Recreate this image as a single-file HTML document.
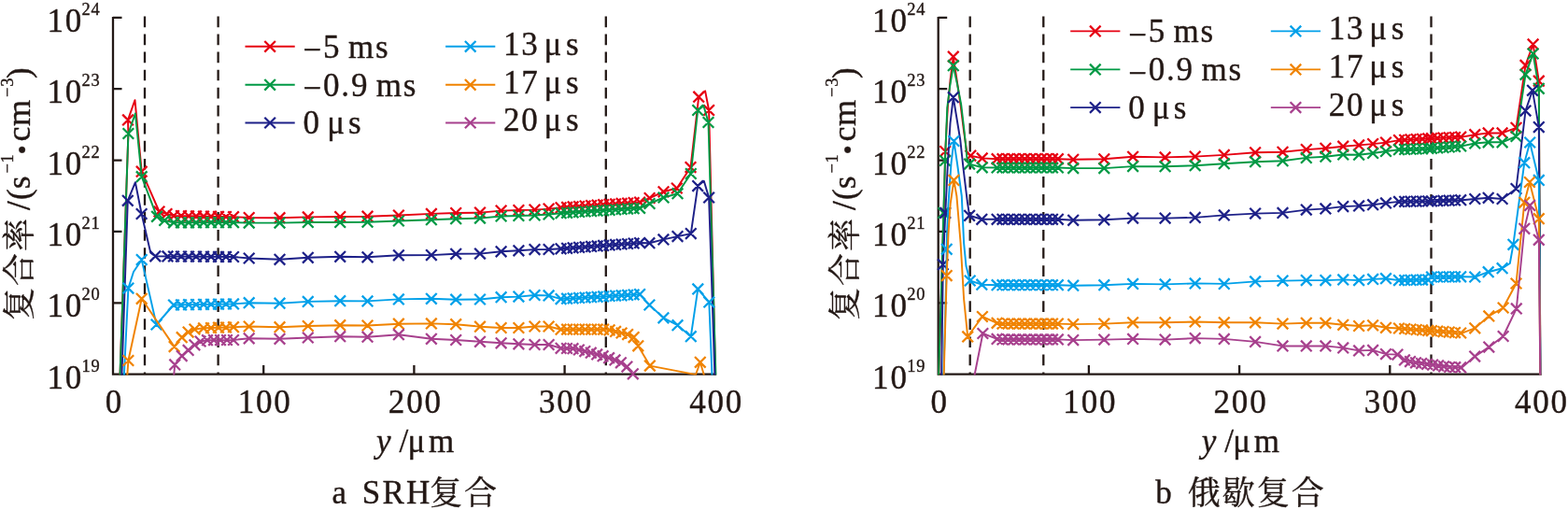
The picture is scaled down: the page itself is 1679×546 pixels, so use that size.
<!DOCTYPE html>
<html lang="zh"><head><meta charset="utf-8"><title>复合率</title>
<style>
html,body{margin:0;padding:0;background:#fff}
body{width:1679px;height:546px;overflow:hidden}
svg{display:block}
text{font-family:"Liberation Serif","Noto Serif CJK SC",serif;fill:#231815;stroke:#231815;stroke-width:0.38;stroke-linejoin:round}
.t{font-size:35px;letter-spacing:1.8px}
.lt{word-spacing:-3px}
.sup{font-size:18.4px;letter-spacing:0.8px}
.cj{font-family:"Noto Serif CJK SC","Liberation Serif",serif}
.ax{stroke:#231815;stroke-width:2.3;fill:none}
.da{stroke:#231815;stroke-width:2.3;fill:none;stroke-dasharray:11.7 7.35}
.ln{fill:none;stroke-width:1.95;stroke-linejoin:round}
.mk{fill:none;stroke-width:2.25}
.lg{fill:none;stroke-width:1.9}
</style></head><body>
<svg width="1679" height="546" viewBox="0 0 1679 546">
<rect width="1679" height="546" fill="#fff"/>
<defs>
<clipPath id="c0"><rect x="119" y="0" width="650.8" height="401.6"/></clipPath>
<clipPath id="c1"><rect x="1002.7" y="0" width="650.8" height="401.6"/></clipPath>
</defs>
<g>
<path class="da" d="M155 17.5V400.6"/>
<path class="da" d="M233.6 17.5V400.6"/>
<path class="da" d="M648.8 17.5V400.6"/>
<path class="ax" d="M121 17.9V400.6H766.8"/>
<path class="ax" d="M121 18.9h9.5M121 95.2h9.5M121 171.6h9.5M121 247.9h9.5M121 324.3h9.5M282.2 400.6v-9.5M443.4 400.6v-9.5M604.6 400.6v-9.5"/>
<path class="ln" clip-path="url(#c0)" stroke="#E60012" d="M121 620L137.4 143L137 128.4L144.5 107.2L151.7 183.7L170.5 226.5L178.5 229L186 231L250 232.2L266.7 233L299.5 233.2L329.8 232.4L364.2 232L393.5 231.7L426.9 230.5L461.9 228.9L488.2 228L514 227.6L536.6 225.6L555.4 225L572.5 224.6L587.6 223.6L600.6 222.3L685.1 216.6L695.6 212L710.5 205.3L724.8 201.5L739.5 179.1L748.2 103.7L755.1 97.4L759.1 118L766.6 420"/>
<path class="mk" stroke="#E60012" d="M131.2 122.6l11.6 11.6m-11.6 0l11.6 -11.6M145.9 177.9l11.6 11.6m-11.6 0l11.6 -11.6M164.7 220.7l11.6 11.6m-11.6 0l11.6 -11.6M172.7 223.2l11.6 11.6m-11.6 0l11.6 -11.6M180.2 225.2l11.6 11.6m-11.6 0l11.6 -11.6M188.2 225.3l11.6 11.6m-11.6 0l11.6 -11.6M196.2 225.5l11.6 11.6m-11.6 0l11.6 -11.6M204.2 225.6l11.6 11.6m-11.6 0l11.6 -11.6M212.2 225.8l11.6 11.6m-11.6 0l11.6 -11.6M220.2 225.9l11.6 11.6m-11.6 0l11.6 -11.6M228.2 226.1l11.6 11.6m-11.6 0l11.6 -11.6M236.2 226.2l11.6 11.6m-11.6 0l11.6 -11.6M244.2 226.4l11.6 11.6m-11.6 0l11.6 -11.6M260.9 227.2l11.6 11.6m-11.6 0l11.6 -11.6M293.7 227.4l11.6 11.6m-11.6 0l11.6 -11.6M324 226.6l11.6 11.6m-11.6 0l11.6 -11.6M358.4 226.2l11.6 11.6m-11.6 0l11.6 -11.6M387.7 225.9l11.6 11.6m-11.6 0l11.6 -11.6M421.1 224.7l11.6 11.6m-11.6 0l11.6 -11.6M456.1 223.1l11.6 11.6m-11.6 0l11.6 -11.6M482.4 222.2l11.6 11.6m-11.6 0l11.6 -11.6M508.2 221.8l11.6 11.6m-11.6 0l11.6 -11.6M530.8 219.8l11.6 11.6m-11.6 0l11.6 -11.6M549.6 219.2l11.6 11.6m-11.6 0l11.6 -11.6M566.7 218.8l11.6 11.6m-11.6 0l11.6 -11.6M581.8 217.8l11.6 11.6m-11.6 0l11.6 -11.6M594.8 216.5l11.6 11.6m-11.6 0l11.6 -11.6M601.3 216.1l11.6 11.6m-11.6 0l11.6 -11.6M607.8 215.6l11.6 11.6m-11.6 0l11.6 -11.6M614.3 215.2l11.6 11.6m-11.6 0l11.6 -11.6M620.8 214.7l11.6 11.6m-11.6 0l11.6 -11.6M627.3 214.3l11.6 11.6m-11.6 0l11.6 -11.6M633.8 213.9l11.6 11.6m-11.6 0l11.6 -11.6M640.3 213.4l11.6 11.6m-11.6 0l11.6 -11.6M646.8 213l11.6 11.6m-11.6 0l11.6 -11.6M653.3 212.6l11.6 11.6m-11.6 0l11.6 -11.6M659.8 212.1l11.6 11.6m-11.6 0l11.6 -11.6M666.3 211.7l11.6 11.6m-11.6 0l11.6 -11.6M672.8 211.2l11.6 11.6m-11.6 0l11.6 -11.6M679.3 210.8l11.6 11.6m-11.6 0l11.6 -11.6M689.8 206.2l11.6 11.6m-11.6 0l11.6 -11.6M704.7 199.5l11.6 11.6m-11.6 0l11.6 -11.6M719 195.7l11.6 11.6m-11.6 0l11.6 -11.6M733.7 173.3l11.6 11.6m-11.6 0l11.6 -11.6M742.4 97.9l11.6 11.6m-11.6 0l11.6 -11.6M753.3 112.2l11.6 11.6m-11.6 0l11.6 -11.6"/>
<path class="ln" clip-path="url(#c0)" stroke="#009944" d="M121 620L137.4 143L144.9 121.5L151.7 189.2L168 231.8L176.2 236L186 238.3L250 238.2L266.7 238.6L299.5 238.6L329.8 238L364.2 238L393.5 237.7L426.9 236.5L461.9 235.2L488.2 234.2L514 233.6L536.6 231.5L555.4 231L572.5 230.5L587.6 229.5L600.6 228.2L685.1 222.8L695.6 218L710.5 211.5L725.5 207.2L739.8 186L747.2 118L753.5 113.4L758.5 131L767 420"/>
<path class="mk" stroke="#009944" d="M131.6 137.2l11.6 11.6m-11.6 0l11.6 -11.6M145.9 183.4l11.6 11.6m-11.6 0l11.6 -11.6M162.2 226l11.6 11.6m-11.6 0l11.6 -11.6M170.4 230.2l11.6 11.6m-11.6 0l11.6 -11.6M180.2 232.5l11.6 11.6m-11.6 0l11.6 -11.6M188.2 232.5l11.6 11.6m-11.6 0l11.6 -11.6M196.2 232.5l11.6 11.6m-11.6 0l11.6 -11.6M204.2 232.5l11.6 11.6m-11.6 0l11.6 -11.6M212.2 232.4l11.6 11.6m-11.6 0l11.6 -11.6M220.2 232.4l11.6 11.6m-11.6 0l11.6 -11.6M228.2 232.4l11.6 11.6m-11.6 0l11.6 -11.6M236.2 232.4l11.6 11.6m-11.6 0l11.6 -11.6M244.2 232.4l11.6 11.6m-11.6 0l11.6 -11.6M260.9 232.8l11.6 11.6m-11.6 0l11.6 -11.6M293.7 232.8l11.6 11.6m-11.6 0l11.6 -11.6M324 232.2l11.6 11.6m-11.6 0l11.6 -11.6M358.4 232.2l11.6 11.6m-11.6 0l11.6 -11.6M387.7 231.9l11.6 11.6m-11.6 0l11.6 -11.6M421.1 230.7l11.6 11.6m-11.6 0l11.6 -11.6M456.1 229.4l11.6 11.6m-11.6 0l11.6 -11.6M482.4 228.4l11.6 11.6m-11.6 0l11.6 -11.6M508.2 227.8l11.6 11.6m-11.6 0l11.6 -11.6M530.8 225.7l11.6 11.6m-11.6 0l11.6 -11.6M549.6 225.2l11.6 11.6m-11.6 0l11.6 -11.6M566.7 224.7l11.6 11.6m-11.6 0l11.6 -11.6M581.8 223.7l11.6 11.6m-11.6 0l11.6 -11.6M594.8 222.4l11.6 11.6m-11.6 0l11.6 -11.6M601.3 222l11.6 11.6m-11.6 0l11.6 -11.6M607.8 221.6l11.6 11.6m-11.6 0l11.6 -11.6M614.3 221.2l11.6 11.6m-11.6 0l11.6 -11.6M620.8 220.7l11.6 11.6m-11.6 0l11.6 -11.6M627.3 220.3l11.6 11.6m-11.6 0l11.6 -11.6M633.8 219.9l11.6 11.6m-11.6 0l11.6 -11.6M640.3 219.5l11.6 11.6m-11.6 0l11.6 -11.6M646.8 219.1l11.6 11.6m-11.6 0l11.6 -11.6M653.3 218.7l11.6 11.6m-11.6 0l11.6 -11.6M659.8 218.2l11.6 11.6m-11.6 0l11.6 -11.6M666.3 217.8l11.6 11.6m-11.6 0l11.6 -11.6M672.8 217.4l11.6 11.6m-11.6 0l11.6 -11.6M679.3 217l11.6 11.6m-11.6 0l11.6 -11.6M689.8 212.2l11.6 11.6m-11.6 0l11.6 -11.6M704.7 205.7l11.6 11.6m-11.6 0l11.6 -11.6M719.7 201.4l11.6 11.6m-11.6 0l11.6 -11.6M734 180.2l11.6 11.6m-11.6 0l11.6 -11.6M741.4 112.2l11.6 11.6m-11.6 0l11.6 -11.6M752.7 125.2l11.6 11.6m-11.6 0l11.6 -11.6"/>
<path class="ln" clip-path="url(#c0)" stroke="#1D2088" d="M121 679L136.8 214.8L144.9 195.2L151.6 229L161.3 270.8L166.3 274.3L186 274.5L250 275L266.7 276.5L299.5 277.8L329.8 275.8L364.2 274.8L393.5 275.3L426.9 273.3L461.9 273.1L488.2 271.8L514 271.6L536.6 269.3L555.4 268.3L572.5 267.1L587.6 267L600.6 266.3L685.1 260L695.4 260.2L710.4 256.4L725.5 253.1L739.8 250.1L747.2 199.1L753.8 193.8L759.1 211.5L766 420"/>
<path class="mk" stroke="#1D2088" d="M131 209l11.6 11.6m-11.6 0l11.6 -11.6M145.8 223.2l11.6 11.6m-11.6 0l11.6 -11.6M160.5 268.5l11.6 11.6m-11.6 0l11.6 -11.6M173.7 268.6l11.6 11.6m-11.6 0l11.6 -11.6M180.2 268.7l11.6 11.6m-11.6 0l11.6 -11.6M188.2 268.8l11.6 11.6m-11.6 0l11.6 -11.6M196.2 268.8l11.6 11.6m-11.6 0l11.6 -11.6M204.2 268.9l11.6 11.6m-11.6 0l11.6 -11.6M212.2 268.9l11.6 11.6m-11.6 0l11.6 -11.6M220.2 269l11.6 11.6m-11.6 0l11.6 -11.6M228.2 269.1l11.6 11.6m-11.6 0l11.6 -11.6M236.2 269.1l11.6 11.6m-11.6 0l11.6 -11.6M244.2 269.2l11.6 11.6m-11.6 0l11.6 -11.6M260.9 270.7l11.6 11.6m-11.6 0l11.6 -11.6M293.7 272l11.6 11.6m-11.6 0l11.6 -11.6M324 270l11.6 11.6m-11.6 0l11.6 -11.6M358.4 269l11.6 11.6m-11.6 0l11.6 -11.6M387.7 269.5l11.6 11.6m-11.6 0l11.6 -11.6M421.1 267.5l11.6 11.6m-11.6 0l11.6 -11.6M456.1 267.3l11.6 11.6m-11.6 0l11.6 -11.6M482.4 266l11.6 11.6m-11.6 0l11.6 -11.6M508.2 265.8l11.6 11.6m-11.6 0l11.6 -11.6M530.8 263.5l11.6 11.6m-11.6 0l11.6 -11.6M549.6 262.5l11.6 11.6m-11.6 0l11.6 -11.6M566.7 261.3l11.6 11.6m-11.6 0l11.6 -11.6M581.8 261.2l11.6 11.6m-11.6 0l11.6 -11.6M594.8 260.5l11.6 11.6m-11.6 0l11.6 -11.6M601.3 260l11.6 11.6m-11.6 0l11.6 -11.6M607.8 259.5l11.6 11.6m-11.6 0l11.6 -11.6M614.3 259l11.6 11.6m-11.6 0l11.6 -11.6M620.8 258.6l11.6 11.6m-11.6 0l11.6 -11.6M627.3 258.1l11.6 11.6m-11.6 0l11.6 -11.6M633.8 257.6l11.6 11.6m-11.6 0l11.6 -11.6M640.3 257.1l11.6 11.6m-11.6 0l11.6 -11.6M646.8 256.6l11.6 11.6m-11.6 0l11.6 -11.6M653.3 256.1l11.6 11.6m-11.6 0l11.6 -11.6M659.8 255.7l11.6 11.6m-11.6 0l11.6 -11.6M666.3 255.2l11.6 11.6m-11.6 0l11.6 -11.6M672.8 254.7l11.6 11.6m-11.6 0l11.6 -11.6M679.3 254.2l11.6 11.6m-11.6 0l11.6 -11.6M689.6 254.4l11.6 11.6m-11.6 0l11.6 -11.6M704.6 250.6l11.6 11.6m-11.6 0l11.6 -11.6M719.7 247.3l11.6 11.6m-11.6 0l11.6 -11.6M734 244.3l11.6 11.6m-11.6 0l11.6 -11.6M741.4 193.3l11.6 11.6m-11.6 0l11.6 -11.6M753.3 205.7l11.6 11.6m-11.6 0l11.6 -11.6"/>
<path class="ln" clip-path="url(#c0)" stroke="#00A0E9" d="M121 645L137.4 308.6L143 291L151.7 278.1L167.5 347.5L185.8 326.5L250 325.4L266.7 324.2L299.5 324.7L329.8 322.9L364.2 322.2L393.5 322.4L426.9 320.4L461.9 319.8L488.2 320.7L514 320.5L536.6 318.2L555.4 317.6L572.5 316L587.6 316.4L600.6 320.1L685.1 315.1L695.4 326.5L710.4 340.3L725.5 348.2L739.8 360.2L747.3 309.4L759.3 323.5L763.2 420"/>
<path class="mk" stroke="#00A0E9" d="M131.6 302.8l11.6 11.6m-11.6 0l11.6 -11.6M145.9 272.3l11.6 11.6m-11.6 0l11.6 -11.6M161.7 341.7l11.6 11.6m-11.6 0l11.6 -11.6M180.2 320.7l11.6 11.6m-11.6 0l11.6 -11.6M188.2 320.6l11.6 11.6m-11.6 0l11.6 -11.6M196.2 320.4l11.6 11.6m-11.6 0l11.6 -11.6M204.2 320.3l11.6 11.6m-11.6 0l11.6 -11.6M212.2 320.1l11.6 11.6m-11.6 0l11.6 -11.6M220.2 320l11.6 11.6m-11.6 0l11.6 -11.6M228.2 319.9l11.6 11.6m-11.6 0l11.6 -11.6M236.2 319.7l11.6 11.6m-11.6 0l11.6 -11.6M244.2 319.6l11.6 11.6m-11.6 0l11.6 -11.6M260.9 318.4l11.6 11.6m-11.6 0l11.6 -11.6M293.7 318.9l11.6 11.6m-11.6 0l11.6 -11.6M324 317.1l11.6 11.6m-11.6 0l11.6 -11.6M358.4 316.4l11.6 11.6m-11.6 0l11.6 -11.6M387.7 316.6l11.6 11.6m-11.6 0l11.6 -11.6M421.1 314.6l11.6 11.6m-11.6 0l11.6 -11.6M456.1 314l11.6 11.6m-11.6 0l11.6 -11.6M482.4 314.9l11.6 11.6m-11.6 0l11.6 -11.6M508.2 314.7l11.6 11.6m-11.6 0l11.6 -11.6M530.8 312.4l11.6 11.6m-11.6 0l11.6 -11.6M549.6 311.8l11.6 11.6m-11.6 0l11.6 -11.6M566.7 310.2l11.6 11.6m-11.6 0l11.6 -11.6M581.8 310.6l11.6 11.6m-11.6 0l11.6 -11.6M594.8 314.3l11.6 11.6m-11.6 0l11.6 -11.6M601.3 313.9l11.6 11.6m-11.6 0l11.6 -11.6M607.8 313.5l11.6 11.6m-11.6 0l11.6 -11.6M614.3 313.1l11.6 11.6m-11.6 0l11.6 -11.6M620.8 312.8l11.6 11.6m-11.6 0l11.6 -11.6M627.3 312.4l11.6 11.6m-11.6 0l11.6 -11.6M633.8 312l11.6 11.6m-11.6 0l11.6 -11.6M640.3 311.6l11.6 11.6m-11.6 0l11.6 -11.6M646.8 311.2l11.6 11.6m-11.6 0l11.6 -11.6M653.3 310.8l11.6 11.6m-11.6 0l11.6 -11.6M659.8 310.5l11.6 11.6m-11.6 0l11.6 -11.6M666.3 310.1l11.6 11.6m-11.6 0l11.6 -11.6M672.8 309.7l11.6 11.6m-11.6 0l11.6 -11.6M679.3 309.3l11.6 11.6m-11.6 0l11.6 -11.6M689.6 320.7l11.6 11.6m-11.6 0l11.6 -11.6M704.6 334.5l11.6 11.6m-11.6 0l11.6 -11.6M719.7 342.4l11.6 11.6m-11.6 0l11.6 -11.6M734 354.4l11.6 11.6m-11.6 0l11.6 -11.6M741.5 303.6l11.6 11.6m-11.6 0l11.6 -11.6M753.5 317.7l11.6 11.6m-11.6 0l11.6 -11.6"/>
<path class="ln" clip-path="url(#c0)" stroke="#F08300" d="M135 420L137.4 386L151.7 319.8L186.6 371.1L194.7 361.2L201.6 355.6L208.4 352.5L218 351.3L250 350.2L266.7 349.5L299.5 350.2L329.8 349L364.2 348.2L393.5 348.5L426.9 346.7L461.9 346.4L488.2 347.2L514 349.7L536.6 351L555.4 351L572.5 349.5L587.6 349.5L600.6 352.7L650 352.7L665 356.3L677.8 359.5L683.3 370.3L695.9 391.6L743 400.6L744.6 402L749.8 387.8L754 402"/>
<path class="mk" stroke="#F08300" d="M131.6 380.2l11.6 11.6m-11.6 0l11.6 -11.6M145.9 314l11.6 11.6m-11.6 0l11.6 -11.6M180.8 365.3l11.6 11.6m-11.6 0l11.6 -11.6M188.9 355.4l11.6 11.6m-11.6 0l11.6 -11.6M195.8 349.8l11.6 11.6m-11.6 0l11.6 -11.6M202.6 346.7l11.6 11.6m-11.6 0l11.6 -11.6M212.2 345.5l11.6 11.6m-11.6 0l11.6 -11.6M220.2 345.2l11.6 11.6m-11.6 0l11.6 -11.6M228.2 344.9l11.6 11.6m-11.6 0l11.6 -11.6M236.2 344.7l11.6 11.6m-11.6 0l11.6 -11.6M244.2 344.4l11.6 11.6m-11.6 0l11.6 -11.6M260.9 343.7l11.6 11.6m-11.6 0l11.6 -11.6M293.7 344.4l11.6 11.6m-11.6 0l11.6 -11.6M324 343.2l11.6 11.6m-11.6 0l11.6 -11.6M358.4 342.4l11.6 11.6m-11.6 0l11.6 -11.6M387.7 342.7l11.6 11.6m-11.6 0l11.6 -11.6M421.1 340.9l11.6 11.6m-11.6 0l11.6 -11.6M456.1 340.6l11.6 11.6m-11.6 0l11.6 -11.6M482.4 341.4l11.6 11.6m-11.6 0l11.6 -11.6M508.2 343.9l11.6 11.6m-11.6 0l11.6 -11.6M530.8 345.2l11.6 11.6m-11.6 0l11.6 -11.6M549.6 345.2l11.6 11.6m-11.6 0l11.6 -11.6M566.7 343.7l11.6 11.6m-11.6 0l11.6 -11.6M581.8 343.7l11.6 11.6m-11.6 0l11.6 -11.6M594.8 346.9l11.6 11.6m-11.6 0l11.6 -11.6M601.3 346.9l11.6 11.6m-11.6 0l11.6 -11.6M607.8 346.9l11.6 11.6m-11.6 0l11.6 -11.6M614.3 346.9l11.6 11.6m-11.6 0l11.6 -11.6M620.8 346.9l11.6 11.6m-11.6 0l11.6 -11.6M627.3 346.9l11.6 11.6m-11.6 0l11.6 -11.6M633.8 346.9l11.6 11.6m-11.6 0l11.6 -11.6M640.3 346.9l11.6 11.6m-11.6 0l11.6 -11.6M646.8 347.5l11.6 11.6m-11.6 0l11.6 -11.6M653.3 349.1l11.6 11.6m-11.6 0l11.6 -11.6M659.8 350.7l11.6 11.6m-11.6 0l11.6 -11.6M666.3 352.3l11.6 11.6m-11.6 0l11.6 -11.6M672.8 355.3l11.6 11.6m-11.6 0l11.6 -11.6M677.5 364.5l11.6 11.6m-11.6 0l11.6 -11.6M690.1 385.8l11.6 11.6m-11.6 0l11.6 -11.6M744 382l11.6 11.6m-11.6 0l11.6 -11.6"/>
<path class="ln" clip-path="url(#c0)" stroke="#A7408D" d="M185.5 410L187.2 390.4L194.7 381.1L201.6 374.9L208.4 369.3L214.6 365.5L222 364.2L250 364L266.7 362.3L299.5 362.8L329.8 361.5L364.2 360.2L393.5 360.7L426.9 358.2L461.9 362.8L488.2 364L514 365.8L536.6 367.3L555.4 368.3L572.5 369L587.6 369L600.6 372.8L615 373.3L634 378L648.6 382L663 387L672 393L677.8 400.3L680 410"/>
<path class="mk" stroke="#A7408D" d="M181.4 384.6l11.6 11.6m-11.6 0l11.6 -11.6M188.9 375.3l11.6 11.6m-11.6 0l11.6 -11.6M195.8 369.1l11.6 11.6m-11.6 0l11.6 -11.6M202.6 363.5l11.6 11.6m-11.6 0l11.6 -11.6M208.8 359.7l11.6 11.6m-11.6 0l11.6 -11.6M216.2 358.4l11.6 11.6m-11.6 0l11.6 -11.6M223.2 358.3l11.6 11.6m-11.6 0l11.6 -11.6M230.2 358.3l11.6 11.6m-11.6 0l11.6 -11.6M237.2 358.2l11.6 11.6m-11.6 0l11.6 -11.6M244.2 358.2l11.6 11.6m-11.6 0l11.6 -11.6M260.9 356.5l11.6 11.6m-11.6 0l11.6 -11.6M293.7 357l11.6 11.6m-11.6 0l11.6 -11.6M324 355.7l11.6 11.6m-11.6 0l11.6 -11.6M358.4 354.4l11.6 11.6m-11.6 0l11.6 -11.6M387.7 354.9l11.6 11.6m-11.6 0l11.6 -11.6M421.1 352.4l11.6 11.6m-11.6 0l11.6 -11.6M456.1 357l11.6 11.6m-11.6 0l11.6 -11.6M482.4 358.2l11.6 11.6m-11.6 0l11.6 -11.6M508.2 360l11.6 11.6m-11.6 0l11.6 -11.6M530.8 361.5l11.6 11.6m-11.6 0l11.6 -11.6M549.6 362.5l11.6 11.6m-11.6 0l11.6 -11.6M566.7 363.2l11.6 11.6m-11.6 0l11.6 -11.6M581.8 363.2l11.6 11.6m-11.6 0l11.6 -11.6M594.8 367l11.6 11.6m-11.6 0l11.6 -11.6M601.2 367.2l11.6 11.6m-11.6 0l11.6 -11.6M607.7 367.4l11.6 11.6m-11.6 0l11.6 -11.6M614.1 368.7l11.6 11.6m-11.6 0l11.6 -11.6M620.5 370.3l11.6 11.6m-11.6 0l11.6 -11.6M627 371.9l11.6 11.6m-11.6 0l11.6 -11.6M633.4 373.6l11.6 11.6m-11.6 0l11.6 -11.6M639.8 375.4l11.6 11.6m-11.6 0l11.6 -11.6M646.3 377.4l11.6 11.6m-11.6 0l11.6 -11.6M652.7 379.6l11.6 11.6m-11.6 0l11.6 -11.6M659.1 382.5l11.6 11.6m-11.6 0l11.6 -11.6M665.6 386.8l11.6 11.6m-11.6 0l11.6 -11.6M672 394.5l11.6 11.6m-11.6 0l11.6 -11.6"/>
<text class="t" x="50.4" y="33.9">10</text><text class="sup" x="87.6" y="15.9">24</text>
<text class="t" x="50.4" y="110.2">10</text><text class="sup" x="87.6" y="92.3">23</text>
<text class="t" x="50.4" y="186.6">10</text><text class="sup" x="87.6" y="168.6">22</text>
<text class="t" x="50.4" y="262.9">10</text><text class="sup" x="87.6" y="245">21</text>
<text class="t" x="50.4" y="339.3">10</text><text class="sup" x="87.6" y="321.3">20</text>
<text class="t" x="50.4" y="415.6">10</text><text class="sup" x="87.6" y="397.7">19</text>
<text class="t" x="122.4" y="442" text-anchor="middle">0</text>
<text class="t" x="283.6" y="442" text-anchor="middle">100</text>
<text class="t" x="444.8" y="442" text-anchor="middle">200</text>
<text class="t" x="606" y="442" text-anchor="middle">300</text>
<text class="t" x="767.2" y="442" text-anchor="middle">400</text>
<text class="t" transform="rotate(-90)"><tspan class="cj" font-size="35" letter-spacing="2" x="-343" y="32.8">复合率</tspan><tspan font-size="35" letter-spacing="0" x="-225" y="32">/</tspan><tspan font-size="35" letter-spacing="0" x="-214.1" y="32">(</tspan><tspan font-size="35.5" letter-spacing="0" x="-202.2" y="32">s</tspan><tspan class="sup" font-size="17.6" letter-spacing="1.0" x="-185.6" y="13.7">−1</tspan><tspan font-size="58" letter-spacing="0" x="-170" y="43">·</tspan><tspan font-size="36" letter-spacing="0.6" x="-151.6" y="32">cm</tspan><tspan class="sup" font-size="17.6" letter-spacing="1.0" x="-104" y="13.7">−3</tspan><tspan font-size="35" letter-spacing="0" x="-84" y="32">)</tspan></text>
<text class="t" y="539"><tspan font-size="35" letter-spacing="1.5" x="355.5">a</tspan><tspan font-size="35" letter-spacing="2.2" x="387.8">SRH</tspan><tspan class="cj" font-size="35" letter-spacing="2" x="460" dy="1">复合</tspan></text>
<text class="t" y="484.2"><tspan font-style="italic" x="403">y</tspan><tspan x="427.5">/</tspan><tspan dx="-2.6">μ</tspan><tspan dx="2">m</tspan></text>
<path class="lg" stroke="#E60012" d="M262.5 49.8h53.2"/>
<path class="mk" stroke="#E60012" d="M283.3 44l11.6 11.6m-11.6 0l11.6 -11.6"/>
<text class="t lt" x="324.5" y="61.6"><tspan dy="3.4">−</tspan><tspan dy="-3.4">5 ms</tspan></text>
<path class="lg" stroke="#009944" d="M262.5 90.8h53.2"/>
<path class="mk" stroke="#009944" d="M283.3 85l11.6 11.6m-11.6 0l11.6 -11.6"/>
<text class="t lt" x="324.5" y="102.6"><tspan dy="3.4">−</tspan><tspan dy="-3.4">0.9 ms</tspan></text>
<path class="lg" stroke="#1D2088" d="M262.5 131.5h53.2"/>
<path class="mk" stroke="#1D2088" d="M283.3 125.7l11.6 11.6m-11.6 0l11.6 -11.6"/>
<text class="t lt" x="324.5" y="143.3">0 <tspan dx="-1.2">μ</tspan><tspan dx="2.2">s</tspan></text>
<path class="lg" stroke="#00A0E9" d="M477.1 49.8h53.2"/>
<path class="mk" stroke="#00A0E9" d="M497.9 44l11.6 11.6m-11.6 0l11.6 -11.6"/>
<text class="t lt" x="539" y="58.7">13 <tspan dx="-2.6">μ</tspan><tspan dx="2.8">s</tspan></text>
<path class="lg" stroke="#F08300" d="M477.1 90.8h53.2"/>
<path class="mk" stroke="#F08300" d="M497.9 85l11.6 11.6m-11.6 0l11.6 -11.6"/>
<text class="t lt" x="539" y="99.7">17 <tspan dx="-2.6">μ</tspan><tspan dx="2.8">s</tspan></text>
<path class="lg" stroke="#A7408D" d="M477.1 131.5h53.2"/>
<path class="mk" stroke="#A7408D" d="M497.9 125.7l11.6 11.6m-11.6 0l11.6 -11.6"/>
<text class="t lt" x="539" y="140.4">20 <tspan dx="-2.6">μ</tspan><tspan dx="2.8">s</tspan></text>
</g>
<g>
<path class="da" d="M1038.7 17.5V400.6"/>
<path class="da" d="M1117.3 17.5V400.6"/>
<path class="da" d="M1532.5 17.5V400.6"/>
<path class="ax" d="M1004.7 17.9V400.6H1650.5"/>
<path class="ax" d="M1004.7 18.9h9.5M1004.7 95.2h9.5M1004.7 171.6h9.5M1004.7 247.9h9.5M1004.7 324.3h9.5M1165.9 400.6v-9.5M1327.1 400.6v-9.5M1488.3 400.6v-9.5"/>
<path class="ln" clip-path="url(#c1)" stroke="#E60012" d="M1004.8 420L1005.4 400L1008.7 290L1010.6 228L1012.2 162L1014.8 115L1017.5 86L1020.8 60.7L1024.5 85L1028.5 112L1032 140L1035.3 163L1039.3 166.7L1051.7 169.4L1067.6 170.2L1132.9 170.2L1149.2 170.8L1182.3 170.3L1213.1 167.8L1247.6 168.4L1279.7 167.6L1310.8 165.9L1344.1 163.3L1373.5 162.8L1398.8 160.1L1419.4 158.8L1438.2 156.7L1455.1 155.4L1470.1 154.1L1484 152.6L1498 150.1L1530 148.4L1565.4 146.6L1579.3 144.2L1593.7 142.4L1608.6 142.4L1623.5 136.8L1633.5 69.9L1641.6 47.4L1647.8 86.7L1649.5 420"/>
<path class="mk" stroke="#E60012" d="M1006.4 156.2l11.6 11.6m-11.6 0l11.6 -11.6M1015 54.9l11.6 11.6m-11.6 0l11.6 -11.6M1033.5 160.9l11.6 11.6m-11.6 0l11.6 -11.6M1045.9 163.6l11.6 11.6m-11.6 0l11.6 -11.6M1061.8 164.4l11.6 11.6m-11.6 0l11.6 -11.6M1067.7 164.4l11.6 11.6m-11.6 0l11.6 -11.6M1073.7 164.4l11.6 11.6m-11.6 0l11.6 -11.6M1079.6 164.4l11.6 11.6m-11.6 0l11.6 -11.6M1085.5 164.4l11.6 11.6m-11.6 0l11.6 -11.6M1091.5 164.4l11.6 11.6m-11.6 0l11.6 -11.6M1097.4 164.4l11.6 11.6m-11.6 0l11.6 -11.6M1103.4 164.4l11.6 11.6m-11.6 0l11.6 -11.6M1109.3 164.4l11.6 11.6m-11.6 0l11.6 -11.6M1115.2 164.4l11.6 11.6m-11.6 0l11.6 -11.6M1121.2 164.4l11.6 11.6m-11.6 0l11.6 -11.6M1127.1 164.4l11.6 11.6m-11.6 0l11.6 -11.6M1143.4 165l11.6 11.6m-11.6 0l11.6 -11.6M1176.5 164.5l11.6 11.6m-11.6 0l11.6 -11.6M1207.3 162l11.6 11.6m-11.6 0l11.6 -11.6M1241.8 162.6l11.6 11.6m-11.6 0l11.6 -11.6M1273.9 161.8l11.6 11.6m-11.6 0l11.6 -11.6M1305 160.1l11.6 11.6m-11.6 0l11.6 -11.6M1338.3 157.5l11.6 11.6m-11.6 0l11.6 -11.6M1367.7 157l11.6 11.6m-11.6 0l11.6 -11.6M1393 154.3l11.6 11.6m-11.6 0l11.6 -11.6M1413.6 153l11.6 11.6m-11.6 0l11.6 -11.6M1432.4 150.9l11.6 11.6m-11.6 0l11.6 -11.6M1449.3 149.6l11.6 11.6m-11.6 0l11.6 -11.6M1464.3 148.3l11.6 11.6m-11.6 0l11.6 -11.6M1478.2 146.8l11.6 11.6m-11.6 0l11.6 -11.6M1492.2 144.3l11.6 11.6m-11.6 0l11.6 -11.6M1498.4 144l11.6 11.6m-11.6 0l11.6 -11.6M1504.7 143.6l11.6 11.6m-11.6 0l11.6 -11.6M1510.9 143.3l11.6 11.6m-11.6 0l11.6 -11.6M1517.2 143l11.6 11.6m-11.6 0l11.6 -11.6M1523.4 142.6l11.6 11.6m-11.6 0l11.6 -11.6M1527.2 142.4l11.6 11.6m-11.6 0l11.6 -11.6M1533.4 142.1l11.6 11.6m-11.6 0l11.6 -11.6M1539.7 141.8l11.6 11.6m-11.6 0l11.6 -11.6M1545.9 141.5l11.6 11.6m-11.6 0l11.6 -11.6M1552.2 141.2l11.6 11.6m-11.6 0l11.6 -11.6M1558.4 140.9l11.6 11.6m-11.6 0l11.6 -11.6M1573.5 138.4l11.6 11.6m-11.6 0l11.6 -11.6M1587.9 136.6l11.6 11.6m-11.6 0l11.6 -11.6M1602.8 136.6l11.6 11.6m-11.6 0l11.6 -11.6M1617.7 131l11.6 11.6m-11.6 0l11.6 -11.6M1627.7 64.1l11.6 11.6m-11.6 0l11.6 -11.6M1635.8 41.6l11.6 11.6m-11.6 0l11.6 -11.6M1642 80.9l11.6 11.6m-11.6 0l11.6 -11.6"/>
<path class="ln" clip-path="url(#c1)" stroke="#009944" d="M1004.5 420L1005.2 400L1008.5 290L1010.3 227.9L1012 172L1014.3 115L1017.2 92L1020.8 70.2L1025 90L1029.2 112L1032.5 140L1035.5 170L1038.1 175.6L1051.7 179.3L1067.6 179.5L1132.9 179.5L1149.2 180.1L1182.3 180.1L1213.1 178.1L1247.6 178.2L1279.7 177.2L1310.8 175.2L1344.1 173.2L1373.5 172.2L1398.8 168.9L1419.4 167.7L1438.2 165.5L1455.1 165.7L1470.1 164L1484 162L1498 160.2L1530 159L1565.4 156.4L1579.3 153.5L1593.7 152.3L1608.6 152.3L1623.5 146L1633.5 79.8L1641.6 57.4L1647.8 94.8L1649.5 420"/>
<path class="mk" stroke="#009944" d="M1004.5 222.1l11.6 11.6m-11.6 0l11.6 -11.6M1006.2 166.2l11.6 11.6m-11.6 0l11.6 -11.6M1015 64.4l11.6 11.6m-11.6 0l11.6 -11.6M1032.3 169.8l11.6 11.6m-11.6 0l11.6 -11.6M1045.9 173.5l11.6 11.6m-11.6 0l11.6 -11.6M1061.8 173.7l11.6 11.6m-11.6 0l11.6 -11.6M1067.7 173.7l11.6 11.6m-11.6 0l11.6 -11.6M1073.7 173.7l11.6 11.6m-11.6 0l11.6 -11.6M1079.6 173.7l11.6 11.6m-11.6 0l11.6 -11.6M1085.5 173.7l11.6 11.6m-11.6 0l11.6 -11.6M1091.5 173.7l11.6 11.6m-11.6 0l11.6 -11.6M1097.4 173.7l11.6 11.6m-11.6 0l11.6 -11.6M1103.4 173.7l11.6 11.6m-11.6 0l11.6 -11.6M1109.3 173.7l11.6 11.6m-11.6 0l11.6 -11.6M1115.2 173.7l11.6 11.6m-11.6 0l11.6 -11.6M1121.2 173.7l11.6 11.6m-11.6 0l11.6 -11.6M1127.1 173.7l11.6 11.6m-11.6 0l11.6 -11.6M1143.4 174.3l11.6 11.6m-11.6 0l11.6 -11.6M1176.5 174.3l11.6 11.6m-11.6 0l11.6 -11.6M1207.3 172.3l11.6 11.6m-11.6 0l11.6 -11.6M1241.8 172.4l11.6 11.6m-11.6 0l11.6 -11.6M1273.9 171.4l11.6 11.6m-11.6 0l11.6 -11.6M1305 169.4l11.6 11.6m-11.6 0l11.6 -11.6M1338.3 167.4l11.6 11.6m-11.6 0l11.6 -11.6M1367.7 166.4l11.6 11.6m-11.6 0l11.6 -11.6M1393 163.1l11.6 11.6m-11.6 0l11.6 -11.6M1413.6 161.9l11.6 11.6m-11.6 0l11.6 -11.6M1432.4 159.7l11.6 11.6m-11.6 0l11.6 -11.6M1449.3 159.9l11.6 11.6m-11.6 0l11.6 -11.6M1464.3 158.2l11.6 11.6m-11.6 0l11.6 -11.6M1478.2 156.2l11.6 11.6m-11.6 0l11.6 -11.6M1492.2 154.4l11.6 11.6m-11.6 0l11.6 -11.6M1498.4 154.2l11.6 11.6m-11.6 0l11.6 -11.6M1504.7 153.9l11.6 11.6m-11.6 0l11.6 -11.6M1510.9 153.7l11.6 11.6m-11.6 0l11.6 -11.6M1517.2 153.5l11.6 11.6m-11.6 0l11.6 -11.6M1523.4 153.2l11.6 11.6m-11.6 0l11.6 -11.6M1527.2 153l11.6 11.6m-11.6 0l11.6 -11.6M1533.4 152.5l11.6 11.6m-11.6 0l11.6 -11.6M1539.7 152.1l11.6 11.6m-11.6 0l11.6 -11.6M1545.9 151.6l11.6 11.6m-11.6 0l11.6 -11.6M1552.2 151.1l11.6 11.6m-11.6 0l11.6 -11.6M1558.4 150.7l11.6 11.6m-11.6 0l11.6 -11.6M1573.5 147.7l11.6 11.6m-11.6 0l11.6 -11.6M1587.9 146.5l11.6 11.6m-11.6 0l11.6 -11.6M1602.8 146.5l11.6 11.6m-11.6 0l11.6 -11.6M1617.7 140.2l11.6 11.6m-11.6 0l11.6 -11.6M1627.7 74l11.6 11.6m-11.6 0l11.6 -11.6M1635.8 51.6l11.6 11.6m-11.6 0l11.6 -11.6M1642 89l11.6 11.6m-11.6 0l11.6 -11.6"/>
<path class="ln" clip-path="url(#c1)" stroke="#1D2088" d="M1007.5 420L1008.2 400L1009.8 283.2L1012.3 227.9L1014.9 175L1017.5 132L1020.8 104.2L1024.2 125L1028.3 150L1031.5 180L1035.7 215L1038.1 230.8L1051.3 234.8L1067.6 234.8L1132.9 234.8L1149.2 235.8L1182.3 235.3L1213.1 233.6L1247.6 233.6L1279.7 232.9L1310.8 230.4L1344.1 228.6L1373.5 227.9L1398.8 224.6L1419.4 223.4L1438.2 221.1L1455.1 220.4L1470.1 219.2L1484 217.4L1498 215.9L1530 215.4L1565.4 214.2L1579.3 213L1593.7 211.8L1608.6 213L1623.5 202L1633.5 118.6L1641 96.8L1647.8 136.1L1649.5 420"/>
<path class="mk" stroke="#1D2088" d="M1004 277.4l11.6 11.6m-11.6 0l11.6 -11.6M1006.5 222.1l11.6 11.6m-11.6 0l11.6 -11.6M1015 98.4l11.6 11.6m-11.6 0l11.6 -11.6M1032.3 225l11.6 11.6m-11.6 0l11.6 -11.6M1045.5 229l11.6 11.6m-11.6 0l11.6 -11.6M1061.8 229l11.6 11.6m-11.6 0l11.6 -11.6M1067.7 229l11.6 11.6m-11.6 0l11.6 -11.6M1073.7 229l11.6 11.6m-11.6 0l11.6 -11.6M1079.6 229l11.6 11.6m-11.6 0l11.6 -11.6M1085.5 229l11.6 11.6m-11.6 0l11.6 -11.6M1091.5 229l11.6 11.6m-11.6 0l11.6 -11.6M1097.4 229l11.6 11.6m-11.6 0l11.6 -11.6M1103.4 229l11.6 11.6m-11.6 0l11.6 -11.6M1109.3 229l11.6 11.6m-11.6 0l11.6 -11.6M1115.2 229l11.6 11.6m-11.6 0l11.6 -11.6M1121.2 229l11.6 11.6m-11.6 0l11.6 -11.6M1127.1 229l11.6 11.6m-11.6 0l11.6 -11.6M1143.4 230l11.6 11.6m-11.6 0l11.6 -11.6M1176.5 229.5l11.6 11.6m-11.6 0l11.6 -11.6M1207.3 227.8l11.6 11.6m-11.6 0l11.6 -11.6M1241.8 227.8l11.6 11.6m-11.6 0l11.6 -11.6M1273.9 227.1l11.6 11.6m-11.6 0l11.6 -11.6M1305 224.6l11.6 11.6m-11.6 0l11.6 -11.6M1338.3 222.8l11.6 11.6m-11.6 0l11.6 -11.6M1367.7 222.1l11.6 11.6m-11.6 0l11.6 -11.6M1393 218.8l11.6 11.6m-11.6 0l11.6 -11.6M1413.6 217.6l11.6 11.6m-11.6 0l11.6 -11.6M1432.4 215.3l11.6 11.6m-11.6 0l11.6 -11.6M1449.3 214.6l11.6 11.6m-11.6 0l11.6 -11.6M1464.3 213.4l11.6 11.6m-11.6 0l11.6 -11.6M1478.2 211.6l11.6 11.6m-11.6 0l11.6 -11.6M1492.2 210.1l11.6 11.6m-11.6 0l11.6 -11.6M1498.4 210l11.6 11.6m-11.6 0l11.6 -11.6M1504.7 209.9l11.6 11.6m-11.6 0l11.6 -11.6M1510.9 209.8l11.6 11.6m-11.6 0l11.6 -11.6M1517.2 209.7l11.6 11.6m-11.6 0l11.6 -11.6M1523.4 209.6l11.6 11.6m-11.6 0l11.6 -11.6M1527.2 209.5l11.6 11.6m-11.6 0l11.6 -11.6M1533.4 209.3l11.6 11.6m-11.6 0l11.6 -11.6M1539.7 209.1l11.6 11.6m-11.6 0l11.6 -11.6M1545.9 208.9l11.6 11.6m-11.6 0l11.6 -11.6M1552.2 208.7l11.6 11.6m-11.6 0l11.6 -11.6M1558.4 208.4l11.6 11.6m-11.6 0l11.6 -11.6M1573.5 207.2l11.6 11.6m-11.6 0l11.6 -11.6M1587.9 206l11.6 11.6m-11.6 0l11.6 -11.6M1602.8 207.2l11.6 11.6m-11.6 0l11.6 -11.6M1617.7 196.2l11.6 11.6m-11.6 0l11.6 -11.6M1627.7 112.8l11.6 11.6m-11.6 0l11.6 -11.6M1635.2 91l11.6 11.6m-11.6 0l11.6 -11.6M1642 130.3l11.6 11.6m-11.6 0l11.6 -11.6"/>
<path class="ln" clip-path="url(#c1)" stroke="#00A0E9" d="M1009.8 420L1010.4 400L1013.2 300L1013.9 253.5L1015.5 218L1018.5 175L1021.4 151L1025 175L1029.8 210L1032.1 260L1034.5 285L1038.7 300.5L1051.3 304.7L1067.6 305.2L1132.9 305.2L1149.2 305.7L1182.3 305.2L1213.1 303.9L1247.6 304.4L1279.7 303.4L1310.8 303.9L1344.1 301.4L1373.5 300.6L1398.8 300.1L1419.4 300.1L1438.2 299.4L1455.1 300.1L1470.1 298.9L1484 298.2L1498 300.1L1529.2 299.5L1533 296.5L1565.4 296.3L1579.3 296.5L1593.7 291.2L1608.6 287.2L1616.8 282L1620.4 261.8L1632.3 174.2L1638.2 152.5L1647.8 192.9L1649.5 420"/>
<path class="mk" stroke="#00A0E9" d="M1007.9 261l11.6 11.6m-11.6 0l11.6 -11.6M1015.6 145.2l11.6 11.6m-11.6 0l11.6 -11.6M1032.9 294.7l11.6 11.6m-11.6 0l11.6 -11.6M1045.5 298.9l11.6 11.6m-11.6 0l11.6 -11.6M1061.8 299.4l11.6 11.6m-11.6 0l11.6 -11.6M1067.7 299.4l11.6 11.6m-11.6 0l11.6 -11.6M1073.7 299.4l11.6 11.6m-11.6 0l11.6 -11.6M1079.6 299.4l11.6 11.6m-11.6 0l11.6 -11.6M1085.5 299.4l11.6 11.6m-11.6 0l11.6 -11.6M1091.5 299.4l11.6 11.6m-11.6 0l11.6 -11.6M1097.4 299.4l11.6 11.6m-11.6 0l11.6 -11.6M1103.4 299.4l11.6 11.6m-11.6 0l11.6 -11.6M1109.3 299.4l11.6 11.6m-11.6 0l11.6 -11.6M1115.2 299.4l11.6 11.6m-11.6 0l11.6 -11.6M1121.2 299.4l11.6 11.6m-11.6 0l11.6 -11.6M1127.1 299.4l11.6 11.6m-11.6 0l11.6 -11.6M1143.4 299.9l11.6 11.6m-11.6 0l11.6 -11.6M1176.5 299.4l11.6 11.6m-11.6 0l11.6 -11.6M1207.3 298.1l11.6 11.6m-11.6 0l11.6 -11.6M1241.8 298.6l11.6 11.6m-11.6 0l11.6 -11.6M1273.9 297.6l11.6 11.6m-11.6 0l11.6 -11.6M1305 298.1l11.6 11.6m-11.6 0l11.6 -11.6M1338.3 295.6l11.6 11.6m-11.6 0l11.6 -11.6M1367.7 294.8l11.6 11.6m-11.6 0l11.6 -11.6M1393 294.3l11.6 11.6m-11.6 0l11.6 -11.6M1413.6 294.3l11.6 11.6m-11.6 0l11.6 -11.6M1432.4 293.6l11.6 11.6m-11.6 0l11.6 -11.6M1449.3 294.3l11.6 11.6m-11.6 0l11.6 -11.6M1464.3 293.1l11.6 11.6m-11.6 0l11.6 -11.6M1478.2 292.4l11.6 11.6m-11.6 0l11.6 -11.6M1492.2 294.3l11.6 11.6m-11.6 0l11.6 -11.6M1498.4 294.2l11.6 11.6m-11.6 0l11.6 -11.6M1504.7 294.1l11.6 11.6m-11.6 0l11.6 -11.6M1510.9 293.9l11.6 11.6m-11.6 0l11.6 -11.6M1517.2 293.8l11.6 11.6m-11.6 0l11.6 -11.6M1523.4 293.7l11.6 11.6m-11.6 0l11.6 -11.6M1527.2 290.7l11.6 11.6m-11.6 0l11.6 -11.6M1533.4 290.7l11.6 11.6m-11.6 0l11.6 -11.6M1539.7 290.6l11.6 11.6m-11.6 0l11.6 -11.6M1545.9 290.6l11.6 11.6m-11.6 0l11.6 -11.6M1552.2 290.5l11.6 11.6m-11.6 0l11.6 -11.6M1558.4 290.5l11.6 11.6m-11.6 0l11.6 -11.6M1573.5 290.7l11.6 11.6m-11.6 0l11.6 -11.6M1587.9 285.4l11.6 11.6m-11.6 0l11.6 -11.6M1602.8 281.4l11.6 11.6m-11.6 0l11.6 -11.6M1614.6 256l11.6 11.6m-11.6 0l11.6 -11.6M1626.5 168.4l11.6 11.6m-11.6 0l11.6 -11.6M1632.4 146.7l11.6 11.6m-11.6 0l11.6 -11.6M1642 187.1l11.6 11.6m-11.6 0l11.6 -11.6"/>
<path class="ln" clip-path="url(#c1)" stroke="#F08300" d="M1010.2 420L1010.7 400L1013.7 295.1L1015.5 250L1017.7 218L1021.4 192.9L1024.4 210L1028.6 260L1032.1 320L1036.2 360.4L1051.9 339L1067.6 345.8L1073.5 346.6L1132.9 346.6L1149.2 347.1L1182.3 346.6L1213.1 345.3L1247.6 345.3L1279.7 344.5L1310.8 345.3L1344.1 345.3L1373.5 346.6L1398.8 345.8L1419.4 345.8L1438.2 347.8L1455.1 349L1470.1 348.3L1484 350.8L1498 351.5L1530 354L1565.4 356.6L1579.3 351.3L1594.3 338.4L1609.6 329.5L1623.5 303.5L1632.3 216.8L1637.9 195L1647.8 234.2L1649.5 420"/>
<path class="mk" stroke="#F08300" d="M1007.9 289.3l11.6 11.6m-11.6 0l11.6 -11.6M1015.6 187.1l11.6 11.6m-11.6 0l11.6 -11.6M1030.4 354.6l11.6 11.6m-11.6 0l11.6 -11.6M1046.1 333.2l11.6 11.6m-11.6 0l11.6 -11.6M1061.8 340l11.6 11.6m-11.6 0l11.6 -11.6M1067.7 340.8l11.6 11.6m-11.6 0l11.6 -11.6M1073.7 340.8l11.6 11.6m-11.6 0l11.6 -11.6M1079.6 340.8l11.6 11.6m-11.6 0l11.6 -11.6M1085.5 340.8l11.6 11.6m-11.6 0l11.6 -11.6M1091.5 340.8l11.6 11.6m-11.6 0l11.6 -11.6M1097.4 340.8l11.6 11.6m-11.6 0l11.6 -11.6M1103.4 340.8l11.6 11.6m-11.6 0l11.6 -11.6M1109.3 340.8l11.6 11.6m-11.6 0l11.6 -11.6M1115.2 340.8l11.6 11.6m-11.6 0l11.6 -11.6M1121.2 340.8l11.6 11.6m-11.6 0l11.6 -11.6M1127.1 340.8l11.6 11.6m-11.6 0l11.6 -11.6M1143.4 341.3l11.6 11.6m-11.6 0l11.6 -11.6M1176.5 340.8l11.6 11.6m-11.6 0l11.6 -11.6M1207.3 339.5l11.6 11.6m-11.6 0l11.6 -11.6M1241.8 339.5l11.6 11.6m-11.6 0l11.6 -11.6M1273.9 338.7l11.6 11.6m-11.6 0l11.6 -11.6M1305 339.5l11.6 11.6m-11.6 0l11.6 -11.6M1338.3 339.5l11.6 11.6m-11.6 0l11.6 -11.6M1367.7 340.8l11.6 11.6m-11.6 0l11.6 -11.6M1393 340l11.6 11.6m-11.6 0l11.6 -11.6M1413.6 340l11.6 11.6m-11.6 0l11.6 -11.6M1432.4 342l11.6 11.6m-11.6 0l11.6 -11.6M1449.3 343.2l11.6 11.6m-11.6 0l11.6 -11.6M1464.3 342.5l11.6 11.6m-11.6 0l11.6 -11.6M1478.2 345l11.6 11.6m-11.6 0l11.6 -11.6M1492.2 345.7l11.6 11.6m-11.6 0l11.6 -11.6M1498.4 346.2l11.6 11.6m-11.6 0l11.6 -11.6M1504.7 346.7l11.6 11.6m-11.6 0l11.6 -11.6M1510.9 347.2l11.6 11.6m-11.6 0l11.6 -11.6M1517.2 347.6l11.6 11.6m-11.6 0l11.6 -11.6M1523.4 348.1l11.6 11.6m-11.6 0l11.6 -11.6M1527.2 348.4l11.6 11.6m-11.6 0l11.6 -11.6M1533.4 348.9l11.6 11.6m-11.6 0l11.6 -11.6M1539.7 349.3l11.6 11.6m-11.6 0l11.6 -11.6M1545.9 349.8l11.6 11.6m-11.6 0l11.6 -11.6M1552.2 350.3l11.6 11.6m-11.6 0l11.6 -11.6M1558.4 350.7l11.6 11.6m-11.6 0l11.6 -11.6M1573.5 345.5l11.6 11.6m-11.6 0l11.6 -11.6M1588.5 332.6l11.6 11.6m-11.6 0l11.6 -11.6M1603.8 323.7l11.6 11.6m-11.6 0l11.6 -11.6M1617.7 297.7l11.6 11.6m-11.6 0l11.6 -11.6M1626.5 211l11.6 11.6m-11.6 0l11.6 -11.6M1632.1 189.2l11.6 11.6m-11.6 0l11.6 -11.6M1642 228.4l11.6 11.6m-11.6 0l11.6 -11.6"/>
<path class="ln" clip-path="url(#c1)" stroke="#A7408D" d="M1043.3 410L1043.7 400.7L1052.4 357L1067.6 362.9L1073.5 363.4L1132.9 363.4L1149.2 364.1L1182.3 363.6L1213.1 362.9L1247.6 363.6L1279.7 362.1L1310.8 362.9L1344.1 365.9L1373.5 370.4L1398.8 370.4L1419.4 370.4L1438.2 372.4L1455.1 375.4L1470.1 374.9L1484 379.1L1496.4 379.6L1504 385.4L1512.7 387.9L1533 390.4L1550 392.9L1565.4 393.4L1579.2 381.6L1594.3 371.6L1609.6 360L1623.8 330.4L1632.3 244.8L1638.2 219.9L1647.8 256.8L1649.5 420"/>
<path class="mk" stroke="#A7408D" d="M1046.6 351.2l11.6 11.6m-11.6 0l11.6 -11.6M1061.8 357.1l11.6 11.6m-11.6 0l11.6 -11.6M1067.7 357.6l11.6 11.6m-11.6 0l11.6 -11.6M1073.7 357.6l11.6 11.6m-11.6 0l11.6 -11.6M1079.6 357.6l11.6 11.6m-11.6 0l11.6 -11.6M1085.5 357.6l11.6 11.6m-11.6 0l11.6 -11.6M1091.5 357.6l11.6 11.6m-11.6 0l11.6 -11.6M1097.4 357.6l11.6 11.6m-11.6 0l11.6 -11.6M1103.4 357.6l11.6 11.6m-11.6 0l11.6 -11.6M1109.3 357.6l11.6 11.6m-11.6 0l11.6 -11.6M1115.2 357.6l11.6 11.6m-11.6 0l11.6 -11.6M1121.2 357.6l11.6 11.6m-11.6 0l11.6 -11.6M1127.1 357.6l11.6 11.6m-11.6 0l11.6 -11.6M1143.4 358.3l11.6 11.6m-11.6 0l11.6 -11.6M1176.5 357.8l11.6 11.6m-11.6 0l11.6 -11.6M1207.3 357.1l11.6 11.6m-11.6 0l11.6 -11.6M1241.8 357.8l11.6 11.6m-11.6 0l11.6 -11.6M1273.9 356.3l11.6 11.6m-11.6 0l11.6 -11.6M1305 357.1l11.6 11.6m-11.6 0l11.6 -11.6M1338.3 360.1l11.6 11.6m-11.6 0l11.6 -11.6M1367.7 364.6l11.6 11.6m-11.6 0l11.6 -11.6M1393 364.6l11.6 11.6m-11.6 0l11.6 -11.6M1413.6 364.6l11.6 11.6m-11.6 0l11.6 -11.6M1432.4 366.6l11.6 11.6m-11.6 0l11.6 -11.6M1449.3 369.6l11.6 11.6m-11.6 0l11.6 -11.6M1464.3 369.1l11.6 11.6m-11.6 0l11.6 -11.6M1478.2 373.3l11.6 11.6m-11.6 0l11.6 -11.6M1490.6 373.8l11.6 11.6m-11.6 0l11.6 -11.6M1498.2 379.6l11.6 11.6m-11.6 0l11.6 -11.6M1504.2 381.3l11.6 11.6m-11.6 0l11.6 -11.6M1510.2 382.5l11.6 11.6m-11.6 0l11.6 -11.6M1516.3 383.3l11.6 11.6m-11.6 0l11.6 -11.6M1522.3 384l11.6 11.6m-11.6 0l11.6 -11.6M1528.3 384.8l11.6 11.6m-11.6 0l11.6 -11.6M1534.3 385.6l11.6 11.6m-11.6 0l11.6 -11.6M1540.3 386.5l11.6 11.6m-11.6 0l11.6 -11.6M1546.4 387.2l11.6 11.6m-11.6 0l11.6 -11.6M1552.4 387.4l11.6 11.6m-11.6 0l11.6 -11.6M1558.4 387.6l11.6 11.6m-11.6 0l11.6 -11.6M1573.4 375.8l11.6 11.6m-11.6 0l11.6 -11.6M1588.5 365.8l11.6 11.6m-11.6 0l11.6 -11.6M1603.8 354.2l11.6 11.6m-11.6 0l11.6 -11.6M1618 324.6l11.6 11.6m-11.6 0l11.6 -11.6M1626.5 239l11.6 11.6m-11.6 0l11.6 -11.6M1632.4 214.1l11.6 11.6m-11.6 0l11.6 -11.6M1642 251l11.6 11.6m-11.6 0l11.6 -11.6"/>
<text class="t" x="934.1" y="33.9">10</text><text class="sup" x="971.3" y="15.9">24</text>
<text class="t" x="934.1" y="110.2">10</text><text class="sup" x="971.3" y="92.3">23</text>
<text class="t" x="934.1" y="186.6">10</text><text class="sup" x="971.3" y="168.6">22</text>
<text class="t" x="934.1" y="262.9">10</text><text class="sup" x="971.3" y="245">21</text>
<text class="t" x="934.1" y="339.3">10</text><text class="sup" x="971.3" y="321.3">20</text>
<text class="t" x="934.1" y="415.6">10</text><text class="sup" x="971.3" y="397.7">19</text>
<text class="t" x="1006.1" y="442" text-anchor="middle">0</text>
<text class="t" x="1167.3" y="442" text-anchor="middle">100</text>
<text class="t" x="1328.5" y="442" text-anchor="middle">200</text>
<text class="t" x="1489.7" y="442" text-anchor="middle">300</text>
<text class="t" x="1650.9" y="442" text-anchor="middle">400</text>
<text class="t" transform="rotate(-90)"><tspan class="cj" font-size="35" letter-spacing="2" x="-343" y="916.5">复合率</tspan><tspan font-size="35" letter-spacing="0" x="-225" y="915.7">/</tspan><tspan font-size="35" letter-spacing="0" x="-214.1" y="915.7">(</tspan><tspan font-size="35.5" letter-spacing="0" x="-202.2" y="915.7">s</tspan><tspan class="sup" font-size="17.6" letter-spacing="1.0" x="-185.6" y="897.4">−1</tspan><tspan font-size="58" letter-spacing="0" x="-170" y="926.7">·</tspan><tspan font-size="36" letter-spacing="0.6" x="-151.6" y="915.7">cm</tspan><tspan class="sup" font-size="17.6" letter-spacing="1.0" x="-104" y="897.4">−3</tspan><tspan font-size="35" letter-spacing="0" x="-84" y="915.7">)</tspan></text>
<text class="t" y="539"><tspan font-size="35" letter-spacing="1.5" x="1237.2">b</tspan><tspan class="cj" font-size="35" letter-spacing="2" x="1271.7" dy="1">俄歇复合</tspan></text>
<text class="t" y="484.2"><tspan font-style="italic" x="1286.7">y</tspan><tspan x="1311.2">/</tspan><tspan dx="-2.6">μ</tspan><tspan dx="2">m</tspan></text>
<path class="lg" stroke="#E60012" d="M1146.2 33.4h53.2"/>
<path class="mk" stroke="#E60012" d="M1167 27.6l11.6 11.6m-11.6 0l11.6 -11.6"/>
<text class="t lt" x="1208.2" y="45.2"><tspan dy="3.4">−</tspan><tspan dy="-3.4">5 ms</tspan></text>
<path class="lg" stroke="#009944" d="M1146.2 74.4h53.2"/>
<path class="mk" stroke="#009944" d="M1167 68.6l11.6 11.6m-11.6 0l11.6 -11.6"/>
<text class="t lt" x="1208.2" y="86.2"><tspan dy="3.4">−</tspan><tspan dy="-3.4">0.9 ms</tspan></text>
<path class="lg" stroke="#1D2088" d="M1146.2 115.1h53.2"/>
<path class="mk" stroke="#1D2088" d="M1167 109.3l11.6 11.6m-11.6 0l11.6 -11.6"/>
<text class="t lt" x="1208.2" y="126.9">0 <tspan dx="-1.2">μ</tspan><tspan dx="2.2">s</tspan></text>
<path class="lg" stroke="#00A0E9" d="M1360.8 33.4h53.2"/>
<path class="mk" stroke="#00A0E9" d="M1381.6 27.6l11.6 11.6m-11.6 0l11.6 -11.6"/>
<text class="t lt" x="1422.7" y="42.3">13 <tspan dx="-2.6">μ</tspan><tspan dx="2.8">s</tspan></text>
<path class="lg" stroke="#F08300" d="M1360.8 74.4h53.2"/>
<path class="mk" stroke="#F08300" d="M1381.6 68.6l11.6 11.6m-11.6 0l11.6 -11.6"/>
<text class="t lt" x="1422.7" y="83.3">17 <tspan dx="-2.6">μ</tspan><tspan dx="2.8">s</tspan></text>
<path class="lg" stroke="#A7408D" d="M1360.8 115.1h53.2"/>
<path class="mk" stroke="#A7408D" d="M1381.6 109.3l11.6 11.6m-11.6 0l11.6 -11.6"/>
<text class="t lt" x="1422.7" y="124">20 <tspan dx="-2.6">μ</tspan><tspan dx="2.8">s</tspan></text>
</g>
</svg>
</body></html>
